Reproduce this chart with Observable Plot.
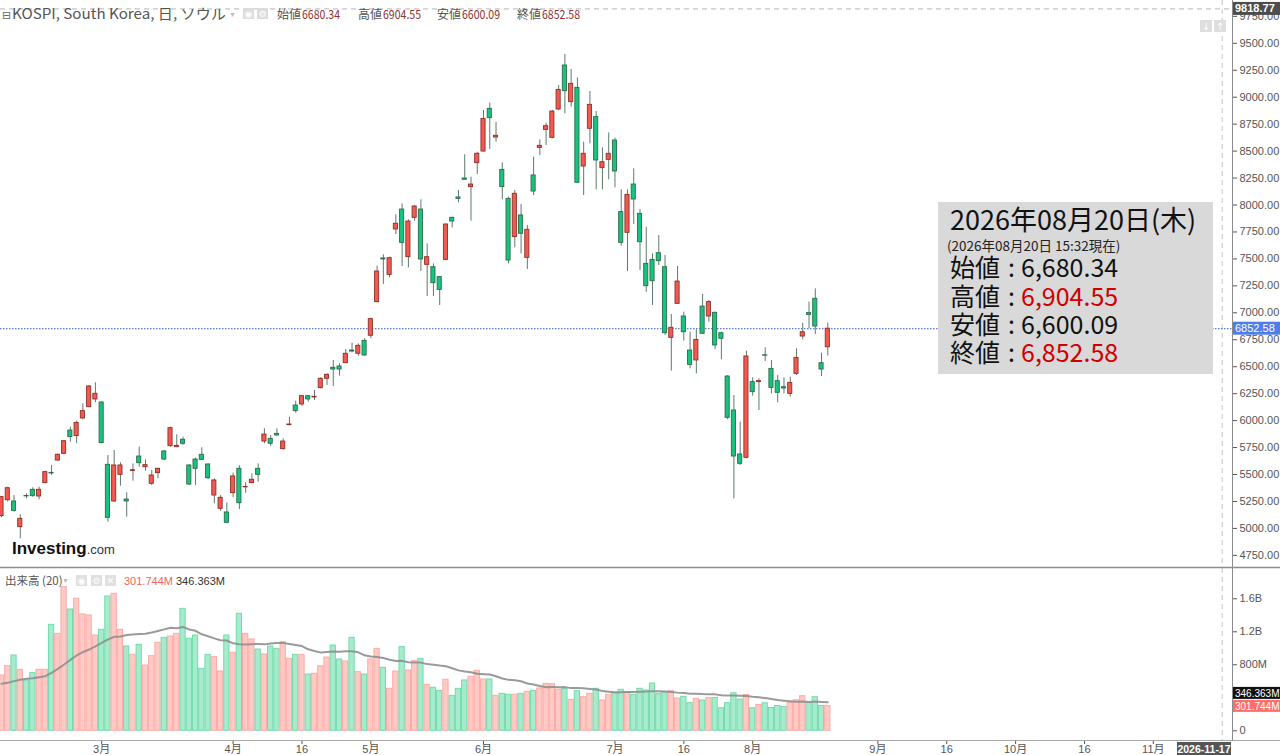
<!DOCTYPE html>
<html><head><meta charset="utf-8">
<script src="https://cdn.jsdelivr.net/npm/d3@7"></script>
<script src="https://cdn.jsdelivr.net/npm/@observablehq/plot@0.6"></script>
<style>
body{margin:0;background:#fff;}
#wrap{position:relative;width:1280px;height:755px;overflow:hidden;background:#fff;}
#wrap > svg{position:absolute;left:0;}
</style></head><body><div id="wrap"></div>
<script>
// ---- data (trading-day index 0..132, ending 2026-08-20) ----
const open  = [5114,5262,5250,5012,5301,5358,5296,5420,5515,5630,5692,5908,5856,6020,6125,6196,6168,5590,5250,5497,5268,5533,5667,5568,5414,5513,5714,5763,5754,5822,5584,5639,5683,5593,5305,5182,5148,5327,5553,5381,5420,5553,5806,5831,5877,5735,5958,6140,6150,6227,6215,6301,6388,6490,6502,6533,6650,6620,6740,6787,7099,7504,7352,7773,7958,7516,7881,7958,7445,7423,7331,7491,7881,8070,8246,8166,8388,8496,8892,8626,8326,8057,7702,7903,7510,8274,8530,8697,8623,8886,9294,8954,9087,8357,8707,8815,8342,8419,8598,7934,7742,8190,7918,7454,7491,7553,7423,6768,7083,6966,6650,6558,7058,6966,7000,6811,6409,6094,5686,5655,6357,6357,6606,6480,6366,6310,6248,6434,6780,6997,7130,6533,6680.34];
const high  = [5298,5383,5305,5126,5321,5377,5383,5531,5584,5692,5816,5939,5995,6156,6326,6351,6175,5677,5723,5609,5330,5599,5754,5636,5537,5559,5723,5939,5868,5847,5590,5652,5748,5599,5460,5305,5237,5513,5581,5423,5506,5599,5924,5862,5924,5831,6032,6180,6233,6233,6279,6397,6434,6558,6527,6660,6718,6712,6759,6950,7433,7538,7516,7909,8011,7863,7996,8048,7640,7454,7337,7825,7887,8135,8466,8258,8490,8877,8945,8768,8391,8073,8135,8005,7810,8444,8605,8759,8877,9109,9396,9257,9180,8583,9053,8867,8530,8669,8620,8141,8141,8335,7958,7794,7547,7717,7532,6984,7430,7006,6820,6842,7170,7114,7006,6820,6418,6233,5986,6644,6397,6388,6675,6558,6418,6397,6403,6666,6904,7099,7222,6626,6904.55];
const low   = [5100,5244,5151,4904,5275,5290,5265,5414,5491,5621,5686,5800,5785,6007,6119,6165,5785,5058,5244,5392,5104,5438,5568,5531,5398,5460,5630,5754,5748,5772,5398,5398,5630,5454,5228,5160,5043,5284,5175,5327,5414,5429,5785,5760,5856,5729,5952,6069,6131,6171,6187,6295,6326,6316,6412,6527,6629,6598,6598,6759,7093,7263,7324,7726,7430,7417,7850,7383,7151,7151,7068,7485,7788,8020,8234,7850,8283,8490,8515,8583,8048,7454,7603,7547,7402,8088,8459,8552,8614,8877,8846,8908,8203,8088,8567,8141,8141,8234,8159,7618,7383,7819,7392,7191,7068,7439,6789,6459,7083,6737,6480,6434,6805,6913,6657,6564,6007,5274,5584,5645,6227,6094,6548,6248,6165,6248,6217,6418,6749,6851,6799,6409,6600.09];
const close = [5290,5373,5163,5089,5297,5299,5358,5522,5510,5683,5809,5847,5979,6088,6317,6249,5791,5098,5584,5584,5250,5540,5605,5587,5491,5553,5639,5930,5766,5785,5407,5553,5636,5466,5445,5284,5052,5482,5234,5385,5451,5497,5871,5785,5862,5806,5964,6088,6227,6196,6221,6388,6425,6474,6474,6620,6641,6694,6604,6941,7383,7495,7507,7826,7649,7847,7986,7495,7516,7275,7213,7819,7847,8057,8234,8190,8475,8799,8806,8642,8166,7485,8104,7733,7770,8125,8549,8731,8867,9068,9056,9124,8206,8475,8929,8413,8397,8475,8311,7649,8094,8051,7655,7247,7293,7479,6811,6861,7290,6820,6517,6749,6805,7099,6697,6759,6026,5667,5599,6595,6264,6366,6602,6304,6258,6298,6350,6582,6820,6981,6873,6474,6852.58];
// volume in millions
const volume = [670,783,913,739,610,699,739,739,1284,1175,1741,1470,1600,1410,1398,1155,1224,1628,1660,1224,1022,921,1042,791,905,1066,1127,1143,1175,1478,1115,1155,751,921,893,719,1155,945,1418,1175,1107,985,925,1022,993,1074,872,921,921,682,690,783,888,1034,864,840,1127,711,682,864,993,763,509,719,1014,731,844,872,557,521,484,618,424,509,610,654,727,622,622,424,448,436,436,448,472,484,513,569,565,497,509,375,480,408,448,509,367,436,464,497,468,436,509,489,573,448,468,480,392,412,335,388,367,396,397,273,334,455,378,435,273,313,333,276,301,288,338,370,419,338,407,301.52,301.744];
// 20-day volume average for the first days (their window starts before the visible range)
const volumeMaHead = [569,581,602,618,630,638,650,662,703,751,804,860,913,953,985,1022,1066,1107,1139];
const maPeriod = 20;

const priceTicks = [4750,5000,5250,5500,5750,6000,6250,6500,6750,7000,7250,7500,7750,8000,8250,8500,8750,9000,9250,9500,9750];
const volumeTicks = [0,800,1200,1600];
const volumeTickLabels = ["0","800M","1.2B","1.6B"];
const dateTickIndex = [16,37,48,59,77,98,109,120,140,151,162,173,184];
const dateTickLabels = ["3月","4月","16","5月","6月","7月","16","8月","9月","16","10月","16","11月"];
const cursorIndex = 195, cursorLabel = "2026-11-17";
const maxVisible = 9818.77;
const headerName = "KOSPI, South Korea, 日, ソウル";
const ohlcNames = ["始値","高値","安値","終値"];
const infoDate = "2026年08月20日(木)";
const infoAsOf = "(2026年08月20日 15:32現在)";

// ---- build ----
const N = close.length;
const candles = d3.range(N).map(i => ({i, o: open[i], h: high[i], l: low[i], c: close[i], v: volume[i], up: close[i] >= open[i],
  ma: i < volumeMaHead.length ? volumeMaHead[i] : d3.mean(volume.slice(i - maPeriod + 1, i + 1))}));
const last = candles[N - 1];
const xDomain = [-0.16, 196.65];
const baseStyle = {fontFamily: "'Liberation Sans', Arial, 'Noto Sans CJK JP', sans-serif", fontSize: "11px", color: "#555", background: "transparent", overflow: "visible"};
const UP_FILL = "#f25a50", UP_STROKE = "#8e2f28", DN_FILL = "#17c37f", DN_STROKE = "#2b6d4b";

const priceChart = Plot.plot({
  width: 1280, height: 567, marginLeft: 0, marginRight: 48, marginTop: 0, marginBottom: 0,
  style: baseStyle,
  x: {domain: xDomain, axis: null},
  y: {domain: [4637.5, 9897], axis: null},
  marks: [
    Plot.ruleY([maxVisible], {stroke: "#b5b5b5", strokeDasharray: "5,4"}),
    Plot.ruleX([cursorIndex], {stroke: "#c4c4c4", strokeDasharray: "5,4"}),
    Plot.ruleY([last.c], {stroke: "#2d5fe6", strokeDasharray: "1.5,1.5", strokeWidth: 1}),
    Plot.ruleX(candles, {x: "i", y1: "l", y2: "h", stroke: "#5d7b6b", strokeWidth: 1}),
    Plot.rect(candles, {x1: d => d.i - 0.33, x2: d => d.i + 0.33, y1: d => Math.min(d.o, d.c), y2: d => Math.max(d.o, d.c),
      fill: d => d.up ? UP_FILL : DN_FILL, stroke: d => d.up ? UP_STROKE : DN_STROKE, strokeWidth: 0.9}),
    Plot.axisY({anchor: "right", label: null, ticks: priceTicks, tickFormat: d => d.toFixed(2), tickSize: 4, tickPadding: 3, fontSize: 11})
  ]
});
priceChart.style.top = "0px";

const labelMap = new Map(dateTickIndex.map((d, k) => [d, dateTickLabels[k]]));
const volLabelMap = new Map(volumeTicks.map((d, k) => [d, volumeTickLabels[k]]));
const volChart = Plot.plot({
  width: 1280, height: 188, marginLeft: 0, marginRight: 48, marginTop: 1, marginBottom: 15,
  style: baseStyle,
  x: {domain: xDomain, label: null},
  y: {domain: [-117.6, 1967], axis: null, label: null},
  marks: [
    Plot.ruleX([cursorIndex], {stroke: "#c4c4c4", strokeDasharray: "5,4"}),
    Plot.rect(candles, {x1: d => d.i - 0.42, x2: d => d.i + 0.42, y1: d => 0, y2: "v",
      fill: d => d.up ? "#ffcac6" : "#a7ebcf", stroke: d => d.up ? "#ffaaa4" : "#72dba9", strokeWidth: 1}),
    Plot.line(candles, {x: "i", y: "ma", stroke: "#8f8f8f", strokeWidth: 2, strokeOpacity: 0.9}),
    Plot.axisY({anchor: "right", label: null, ticks: volumeTicks, tickFormat: d => volLabelMap.get(d), tickSize: 4, tickPadding: 3, fontSize: 11}),
    Plot.axisX({anchor: "bottom", label: null, ticks: dateTickIndex, tickFormat: d => labelMap.get(d), tickSize: 4, tickPadding: 1, fontSize: 11})
  ]
});
volChart.style.top = "567px";

const wrap = document.getElementById("wrap");
wrap.appendChild(priceChart);
wrap.appendChild(volChart);

// ---- overlay: frame lines, value labels, legends ----
const yP = priceChart.scale("y"), yV = volChart.scale("y");
const ov = d3.select(wrap).append("svg").attr("width", 1280).attr("height", 755)
  .style("position", "absolute").style("left", 0).style("top", 0).style("pointer-events", "none");
const CJK = "'Noto Sans CJK JP', 'Noto Sans', sans-serif";
const SANS = "'Liberation Sans', Arial, sans-serif";

ov.append("line").attr("x1", 0).attr("x2", 1280).attr("y1", 567.5).attr("y2", 567.5).attr("stroke", "#8c8c8c").attr("stroke-width", 1.5);
ov.append("line").attr("x1", 0).attr("x2", 1280).attr("y1", 740.5).attr("y2", 740.5).attr("stroke", "#a8a8a8").attr("stroke-width", 1.2);
ov.append("line").attr("x1", 1232.5).attr("x2", 1232.5).attr("y1", 0).attr("y2", 741).attr("stroke", "#8c8c8c").attr("stroke-width", 1);

function tag(x, yc, w, h, bg, txt, color, bold, size) {
  ov.append("rect").attr("x", x).attr("y", yc - h / 2).attr("width", w).attr("height", h).attr("fill", bg);
  ov.append("text").attr("x", x + 2).attr("y", yc + 3.8).attr("font-family", SANS).attr("font-size", size || 11)
    .attr("font-weight", bold ? "bold" : "normal").attr("fill", color).text(txt);
}
tag(1233, yP.apply(maxVisible), 47, 13, "#4d4d4d", maxVisible.toFixed(2), "#fff", true, 11);
tag(1233, yP.apply(last.c), 47, 13, "#4f7ee9", last.c.toFixed(2), "#fff", false, 11);
const yVol = 567 + yV.apply(last.v);
tag(1233, yVol - 12.5, 47, 12, "#111", (last.ma).toFixed(3) + "M", "#fff", false, 10);
tag(1233, yVol + 0.5, 47, 12, "#ff6f67", last.v.toFixed(3) + "M", "#fff", false, 10);
// cursor date tag
ov.append("rect").attr("x", 1177).attr("y", 742).attr("width", 54).attr("height", 13).attr("fill", "#555");
ov.append("text").attr("x", 1204).attr("y", 752.5).attr("text-anchor", "middle").attr("font-family", SANS)
  .attr("font-size", 10.5).attr("font-weight", "bold").attr("fill", "#fff").text(cursorLabel);

// header
ov.append("text").attr("x", 2).attr("y", 19).attr("font-family", "DejaVu Sans").attr("font-size", 11).attr("fill", "#666").text("⊟");
ov.append("text").attr("x", 12).attr("y", 19).attr("font-family", CJK).attr("font-size", 14).attr("fill", "#555")
  .attr("textLength", 214).attr("lengthAdjust", "spacingAndGlyphs").text(headerName);
ov.append("text").attr("x", 229).attr("y", 17).attr("font-family", SANS).attr("font-size", 7).attr("fill", "#bbb").text("▼");
[[243, "◉"], [257, "⚙"]].forEach(([x, s]) => {
  ov.append("rect").attr("x", x).attr("y", 8).attr("width", 11).attr("height", 11).attr("fill", "#dcdcdc");
  ov.append("text").attr("x", x + 5.5).attr("y", 17).attr("text-anchor", "middle").attr("font-family", "DejaVu Sans").attr("font-size", 9).attr("fill", "#fff").text(s);
});
const headVals = [last.o, last.h, last.l, last.c];
const headX = [277, 358, 437, 517];
ohlcNames.forEach((n, k) => {
  ov.append("text").attr("x", headX[k]).attr("y", 19).attr("font-family", CJK).attr("font-size", 12.5).attr("fill", "#555")
    .attr("textLength", 24).attr("lengthAdjust", "spacingAndGlyphs").text(n);
  ov.append("text").attr("x", headX[k] + 25).attr("y", 19).attr("font-family", CJK).attr("font-size", 12.5).attr("fill", "#8b3232")
    .attr("textLength", 38).attr("lengthAdjust", "spacingAndGlyphs").text(headVals[k].toFixed(2));
});
// top-right buttons
[[1200, "↓"], [1214, "↑"]].forEach(([x, s]) => {
  ov.append("rect").attr("x", x).attr("y", 20).attr("width", 12).attr("height", 12).attr("fill", "#dedede");
  ov.append("text").attr("x", x + 6).attr("y", 30).attr("text-anchor", "middle").attr("font-family", "DejaVu Sans").attr("font-size", 10).attr("fill", "#fff").text(s);
});

// volume legend
ov.append("text").attr("x", 5).attr("y", 585).attr("font-family", CJK).attr("font-size", 11.5).attr("fill", "#555").text("出来高 (" + maPeriod + ")");
ov.append("text").attr("x", 62).attr("y", 583).attr("font-family", SANS).attr("font-size", 7).attr("fill", "#bbb").text("▼");
[[76, "◉"], [91, "⚙"], [105, "✕"]].forEach(([x, s]) => {
  ov.append("rect").attr("x", x).attr("y", 575).attr("width", 11).attr("height", 11).attr("fill", "#e0e0e0");
  ov.append("text").attr("x", x + 5.5).attr("y", 584).attr("text-anchor", "middle").attr("font-family", "DejaVu Sans").attr("font-size", 9).attr("fill", "#fff").text(s);
});
ov.append("text").attr("x", 124).attr("y", 585).attr("font-family", SANS).attr("font-size", 11).attr("fill", "#f0665e").text(last.v.toFixed(3) + "M");
ov.append("text").attr("x", 176).attr("y", 585).attr("font-family", SANS).attr("font-size", 11).attr("fill", "#333").text(last.ma.toFixed(3) + "M");

// logo
const logo = ov.append("text").attr("x", 12).attr("y", 554).attr("font-family", SANS);
logo.append("tspan").attr("font-size", 17).attr("font-weight", "bold").attr("fill", "#111").text("Investing");
logo.append("tspan").attr("font-size", 13).attr("fill", "#333").text(".com");

// info box
ov.append("rect").attr("x", 938).attr("y", 202).attr("width", 275).attr("height", 172).attr("fill", "#d9d9d9");
ov.append("text").attr("x", 950).attr("y", 230).attr("font-family", CJK).attr("font-size", 27).attr("fill", "#111").text(infoDate);
ov.append("text").attr("x", 947).attr("y", 251).attr("font-family", CJK).attr("font-size", 13.5).attr("fill", "#222").text(infoAsOf);
const fmt = d3.format(",.2f");
const infoY = [277, 305.5, 334, 362];
ohlcNames.forEach((n, k) => {
  ov.append("text").attr("x", 950).attr("y", infoY[k]).attr("font-family", CJK).attr("font-size", 25).attr("fill", "#111").text(n);
  ov.append("text").attr("x", 1008).attr("y", infoY[k]).attr("font-family", CJK).attr("font-size", 25).attr("fill", "#111").text(":");
  ov.append("text").attr("x", 1021).attr("y", infoY[k]).attr("font-family", CJK).attr("font-size", 25)
    .attr("fill", (k === 1 || k === 3) ? "#d00000" : "#111").text(fmt(headVals[k]));
});
</script></body></html>
